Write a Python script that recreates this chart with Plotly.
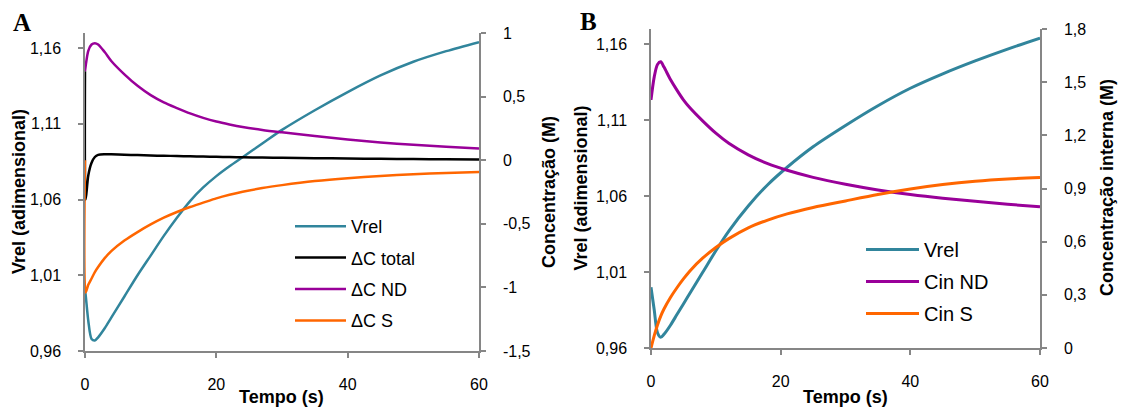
import plotly.graph_objects as go

# ---- Panel A: relative volume and concentration differences ----
time_a = [0, 0.1, 0.5, 1, 1.5, 2, 3, 4, 6, 8, 10, 12, 14, 16, 18, 20, 22, 24, 27, 30, 35, 40, 45, 50, 55, 60]
vrel_a = [1.000, 0.997, 0.980, 0.968, 0.967, 0.969, 0.975, 0.982, 0.996, 1.010, 1.023, 1.036, 1.048, 1.059,
          1.068, 1.0755, 1.082, 1.088, 1.097, 1.106, 1.119, 1.131, 1.142, 1.151, 1.158, 1.164]
dc_total = [0.70, -0.31, -0.12, -0.02, 0.025, 0.042, 0.047, 0.046, 0.043, 0.040, 0.037, 0.035, 0.033, 0.031,
            0.029, 0.027, 0.025, 0.023, 0.021, 0.019, 0.016, 0.013, 0.011, 0.009, 0.007, 0.005]
dc_nd = [0.70, 0.74, 0.86, 0.91, 0.92, 0.91, 0.85, 0.78, 0.675, 0.585, 0.512, 0.455, 0.41, 0.368,
         0.333, 0.304, 0.281, 0.261, 0.238, 0.219, 0.190, 0.163, 0.140, 0.121, 0.105, 0.092]
dc_s = [0.0, -1.04, -0.98, -0.93, -0.88, -0.84, -0.77, -0.715, -0.632, -0.565, -0.505, -0.452, -0.407, -0.368,
        -0.334, -0.300, -0.272, -0.248, -0.219, -0.196, -0.164, -0.141, -0.124, -0.111, -0.100, -0.092]

# ---- Panel B: relative volume and internal concentrations ----
time_b = [0, 0.5, 1, 1.5, 2, 3, 4, 5, 6, 8, 10, 12, 15, 18, 21, 25, 30, 35, 40, 45, 50, 55, 60]
vrel_b = [1.000, 0.985, 0.970, 0.967, 0.969, 0.975, 0.982, 0.989, 0.996, 1.010, 1.024, 1.037, 1.0535, 1.0675,
          1.079, 1.0925, 1.1065, 1.1195, 1.131, 1.1405, 1.149, 1.1568, 1.164]
cin_nd = [1.40, 1.53, 1.60, 1.615, 1.585, 1.515, 1.455, 1.40, 1.355, 1.28, 1.212, 1.155, 1.09, 1.04,
          1.003, 0.963, 0.924, 0.892, 0.866, 0.845, 0.828, 0.811, 0.797]
cin_s = [0.0, 0.07, 0.13, 0.18, 0.22, 0.285, 0.34, 0.39, 0.435, 0.508, 0.567, 0.617, 0.678, 0.722,
         0.757, 0.793, 0.830, 0.866, 0.897, 0.922, 0.941, 0.954, 0.962]

# ---- Tick values and labels ----
x_ticks = [0, 20, 40, 60]
x_labels = ["0", "20", "40", "60"]
vrel_ticks = [0.96, 1.01, 1.06, 1.11, 1.16]
vrel_labels = ["0,96", "1,01", "1,06", "1,11", "1,16"]
dc_ticks = [-1.5, -1.0, -0.5, 0.0, 0.5, 1.0]
dc_labels = ["-1,5", "-1", "-0,5", "0", "0,5", "1"]
cin_ticks = [0.0, 0.3, 0.6, 0.9, 1.2, 1.5, 1.8]
cin_labels = ["0", "0,3", "0,6", "0,9", "1,2", "1,5", "1,8"]

TEAL = "#31859C"
PURPLE = "#990099"
ORANGE = "#FF6600"
BLACK = "#000000"
AXIS_GRAY = "#868686"
FONT = "Liberation Sans, Arial, sans-serif"

W, H = 1121, 407


def px_x(x):
    return x / W


def px_y(y):
    return 1 - y / H


fig = go.Figure()


def add_line(t, v, name, color, width, xa, ya, leg):
    fig.add_trace(go.Scatter(x=t, y=v, name=name, mode="lines",
                             line=dict(color=color, width=width, shape="spline", smoothing=0.8),
                             xaxis=xa, yaxis=ya, legend=leg, legendgroup=leg + name))


# Panel A traces
add_line(time_a, vrel_a, "Vrel", TEAL, 2.5, "x", "y", "legend")
add_line(time_a, dc_total, "ΔC total", BLACK, 2.5, "x", "y2", "legend")
add_line(time_a, dc_nd, "ΔC ND", PURPLE, 2.5, "x", "y2", "legend")
add_line(time_a, dc_s, "ΔC S", ORANGE, 2.5, "x", "y2", "legend")

# Panel B traces
add_line(time_b, vrel_b, "Vrel", TEAL, 3, "x2", "y3", "legend2")
add_line(time_b, cin_nd, "Cin ND", PURPLE, 3, "x2", "y4", "legend2")
add_line(time_b, cin_s, "Cin S", ORANGE, 3, "x2", "y4", "legend2")

tick_font = dict(family=FONT, size=16, color="#000000")
axis_common = dict(showline=True, linecolor=AXIS_GRAY, linewidth=1.5, ticks="outside",
                   tickcolor=AXIS_GRAY, ticklen=5, tickwidth=1.5, showgrid=False,
                   zeroline=False, tickfont=tick_font, fixedrange=True, automargin=False)

dom_ax = [px_x(85), px_x(479)]
dom_ay = [px_y(351), px_y(33)]
dom_bx = [px_x(651), px_x(1040)]
dom_by = [px_y(348), px_y(29)]

fig.update_layout(
    width=W, height=H,
    margin=dict(l=0, r=0, t=0, b=0, autoexpand=False),
    paper_bgcolor="white", plot_bgcolor="white",
    font=dict(family=FONT, color="#000000"),
    xaxis=dict(domain=dom_ax, anchor="y", range=[0, 60], tickvals=x_ticks, ticktext=x_labels,
               ticklabelstandoff=13, **axis_common),
    yaxis=dict(domain=dom_ay, anchor="x", range=[0.96, 1.17], tickvals=vrel_ticks,
               ticktext=vrel_labels, ticklabelstandoff=14, **axis_common),
    yaxis2=dict(domain=dom_ay, anchor="x", overlaying="y", side="right", range=[-1.5, 1.0],
                tickvals=dc_ticks, ticktext=dc_labels, ticklabelstandoff=14, **axis_common),
    xaxis2=dict(domain=dom_bx, anchor="y3", range=[0, 60], tickvals=x_ticks, ticktext=x_labels,
                ticklabelstandoff=13, **axis_common),
    yaxis3=dict(domain=dom_by, anchor="x2", range=[0.96, 1.17], tickvals=vrel_ticks,
                ticktext=vrel_labels, ticklabelstandoff=14, **axis_common),
    yaxis4=dict(domain=dom_by, anchor="x2", overlaying="y3", side="right", range=[0, 1.8],
                tickvals=cin_ticks, ticktext=cin_labels, ticklabelstandoff=14, **axis_common),
    legend=dict(x=px_x(290), y=px_y(208), xanchor="left", yanchor="top",
                font=dict(family=FONT, size=18), bgcolor="rgba(0,0,0,0)",
                itemwidth=51, tracegroupgap=5, traceorder="grouped"),
    legend2=dict(x=px_x(861), y=px_y(230), xanchor="left", yanchor="top",
                 font=dict(family=FONT, size=20), bgcolor="rgba(0,0,0,0)",
                 itemwidth=53, tracegroupgap=3, traceorder="grouped"),
    showlegend=True,
)

title_font = dict(family=FONT, size=18, color="#000000")
serif = dict(family="Liberation Serif, Times New Roman, serif", size=25, color="#000000")
annotations = [
    dict(text="<b>A</b>", x=px_x(22), y=px_y(22), font=serif),
    dict(text="<b>B</b>", x=px_x(588), y=px_y(21), font=serif),
    dict(text="<b>Vrel (adimensional)</b>", x=px_x(19), y=px_y(192), textangle=-90, font=title_font),
    dict(text="<b>Concentração (M)</b>", x=px_x(549), y=px_y(192), textangle=-90, font=title_font),
    dict(text="<b>Tempo (s)</b>", x=px_x(281), y=px_y(397), font=title_font),
    dict(text="<b>Vrel (adimensional)</b>", x=px_x(580), y=px_y(188.5), textangle=-90, font=title_font),
    dict(text="<b>Concentração interna (M)</b>", x=px_x(1107), y=px_y(188), textangle=-90, font=title_font),
    dict(text="<b>Tempo (s)</b>", x=px_x(845), y=px_y(397), font=title_font),
]
for a in annotations:
    a.update(xref="paper", yref="paper", showarrow=False, xanchor="center", yanchor="middle")
fig.update_layout(annotations=annotations)

fig.write_html("out.html")
